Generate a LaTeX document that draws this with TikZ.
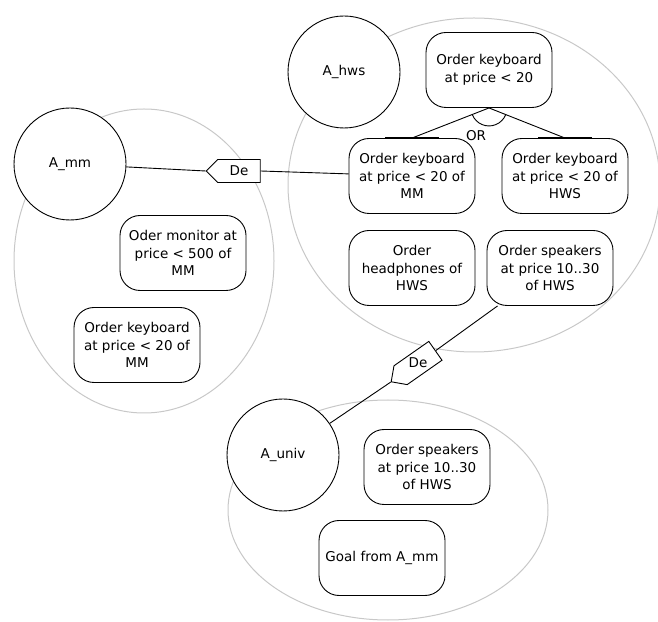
\documentclass[tikz,border=0pt]{standalone}
\usepackage{fontspec}
\setmainfont{DejaVu Sans}
\usepackage{tikz}
\usetikzlibrary{shapes.symbols}
\definecolor{scopegray}{HTML}{C8C8C8}
\tikzset{
  agent/.style={circle, draw, fill=white, line width=0.9pt, minimum size=112pt, inner sep=0pt},
  goal/.style={draw, fill=white, rounded corners=20pt, line width=0.9pt, minimum width=126pt, minimum height=75pt, align=center, inner sep=1pt},
  scopeLine/.style={draw=scopegray, line width=1pt},
  depBox/.style={signal, signal to=west, draw, fill=white, line width=0.9pt, minimum width=54pt, minimum height=23pt, inner sep=0pt},
  link/.style={line width=0.9pt},
  orBar/.style={line width=1.6pt}
}

\begin{document}
\begin{tikzpicture}[x=1pt, y=1pt, font=\fontsize{13.5}{17.5}\selectfont]
\useasboundingbox (0,0) rectangle (658,621);
% scopes
\draw[scopeLine] (474,436) ellipse (186pt and 167pt);
\draw[scopeLine] (144,360) ellipse (130pt and 152pt);
\draw[scopeLine] (388,111) ellipse (160pt and 110pt);

% agents
\node[agent] (hws) at (344,549) {A\_hws};
\node[agent] (mm) at (70,457) {A\_mm};
\node[agent] (univ) at (283,166) {A\_univ};

% A_hws
\node[goal] (kb20) at (489,551) {Order keyboard\\at price < 20};
\node[goal] (kbMM) at (412,445) {Order keyboard\\at price < 20 of\\MM};
\node[goal] (kbHWS) at (565,445) {Order keyboard\\at price < 20 of\\HWS};
\node[goal] (phones) at (412,353) {Order\\headphones of\\HWS};
\node[goal] (spkHWS) at (550,353) {Order speakers\\at price 10..30\\of HWS};

% A_mm
\node[goal] (monMM) at (183,368) {Oder monitor at\\price < 500 of\\MM};
\node[goal] (kbMM2) at (137,276) {Order keyboard\\at price < 20 of\\MM};

% A_univ
\node[goal] (spkUniv) at (427,154) {Order speakers\\at price 10..30\\of HWS};
\node[goal] (fromMM) at (382,63) {Goal from A\_mm};

% OR decomposition
\draw[link] (kb20.south) -- (kbMM.north);
\draw[link] (kb20.south) -- (kbHWS.north);
\draw[link] (kb20.south) ++(202:18) arc[start angle=202, end angle=338, radius=18];
\draw[orBar] ([xshift=-27pt]kbMM.north) -- ([xshift=27pt]kbMM.north);
\draw[orBar] ([xshift=-27pt]kbHWS.north) -- ([xshift=27pt]kbHWS.north);
\node (orLab) at (476,485) {OR};

% dependencies
\node[depBox] (de1) at (239,450) {De};
\draw[link] (mm) -- (de1.west);
\draw[link] (de1.east) -- (kbMM);

\node[depBox, rotate=35] (de2) at (418,258) {};
\node (de2Lab) at (de2) {De};
\draw[link] (univ) -- (de2.west);
\draw[link] (de2.east) -- (spkHWS);
\end{tikzpicture}
\end{document}
